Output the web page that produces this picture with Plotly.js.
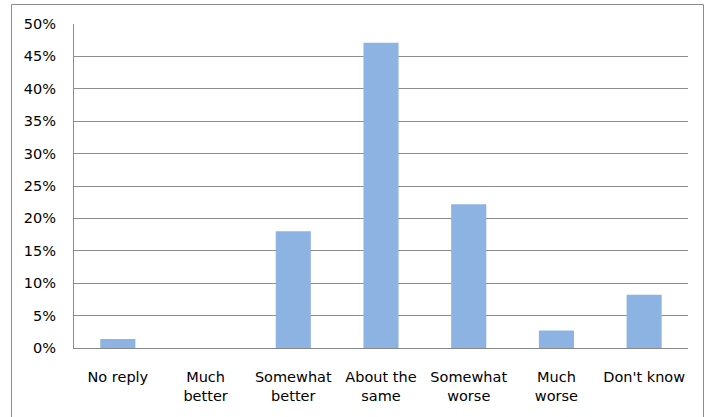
<!DOCTYPE html>
<html><head><meta charset="utf-8">
<script src="https://cdn.plot.ly/plotly-3.0.1.min.js"></script>
<style>html,body{margin:0;padding:0;background:#fff}#chart{width:712px;height:417px}</style>
</head><body><div id="chart"></div>
<script>
const categories = ["No reply", "Much<br>better", "Somewhat<br>better", "About the<br>same", "Somewhat<br>worse", "Much<br>worse", "Don't know"];
const values = [0.014, 0, 0.18, 0.471, 0.222, 0.027, 0.082];
const tickVals = [0, 0.05, 0.10, 0.15, 0.20, 0.25, 0.30, 0.35, 0.40, 0.45, 0.50];
const tickText = ["0%", "5%", "10%", "15%", "20%", "25%", "30%", "35%", "40%", "45%", "50%"];

const L = 74, R = 24, T = 24, B = 69, W = 712, H = 417;
const pw = W - L - R, ph = H - T - B;
const px = x => (x - L) / pw;
const py = y => (H - B - y) / ph;

Plotly.newPlot('chart', [{
  type: 'bar', x: categories, y: values,
  marker: {color: '#8DB3E2', line: {width: 0}},
  hoverinfo: 'none'
}], {
  width: W, height: H,
  margin: {l: L, r: R, t: T, b: B, pad: 0},
  paper_bgcolor: '#fff', plot_bgcolor: '#fff',
  bargap: 0.6,
  font: {family: 'DejaVu Sans', size: 14.5, color: '#000'},
  showlegend: false,
  xaxis: {
    type: 'category', showgrid: false, zeroline: false,
    showline: true, linecolor: '#888', linewidth: 1,
    ticks: 'outside', ticklen: 16, tickcolor: 'rgba(0,0,0,0)',
    tickfont: {family: 'DejaVu Sans', size: 14.5, color: '#000'}
  },
  yaxis: {
    range: [0, 0.5], tickvals: tickVals, ticktext: tickText,
    showgrid: true, gridcolor: '#8c8c8c', gridwidth: 1,
    zeroline: false, showline: true, linecolor: '#8c8c8c', linewidth: 1,
    ticks: 'outside', ticklen: 14, tickcolor: 'rgba(0,0,0,0)',
    tickfont: {family: 'DejaVu Sans', size: 14.5, color: '#000'}
  },
  shapes: [{
    type: 'rect', xref: 'paper', yref: 'paper',
    x0: px(11.5), x1: px(703.5), y0: py(430), y1: py(4.5),
    line: {color: '#8c8c8c', width: 1}, fillcolor: 'rgba(0,0,0,0)', layer: 'below'
  }]
}, {staticPlot: true});
</script></body></html>
